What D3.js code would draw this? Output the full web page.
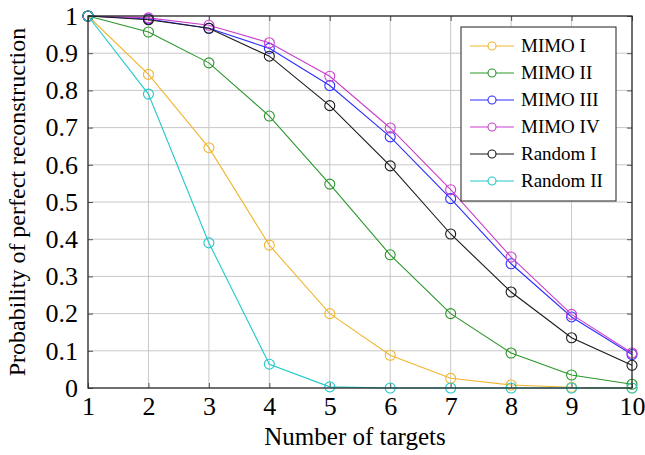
<!DOCTYPE html>
<html>
<head>
<meta charset="utf-8">
<script src="https://cdnjs.cloudflare.com/ajax/libs/d3/7.8.5/d3.min.js"></script>
<style>
  body { margin: 0; background: #fff; }
</style>
</head>
<body>
<script>
// values
const targets = [1, 2, 3, 4, 5, 6, 7, 8, 9, 10]
const mimoI   = [1, 0.843, 0.646, 0.384, 0.200, 0.088, 0.026, 0.008, 0.002, 0]
const mimoII  = [1, 0.957, 0.874, 0.731, 0.548, 0.358, 0.200, 0.094, 0.035, 0.010]
const mimoIII = [1, 0.992, 0.967, 0.913, 0.813, 0.675, 0.509, 0.334, 0.191, 0.090]
const mimoIV  = [1, 0.995, 0.975, 0.928, 0.838, 0.699, 0.533, 0.352, 0.198, 0.094]
const randI   = [1, 0.990, 0.967, 0.892, 0.759, 0.597, 0.414, 0.258, 0.135, 0.061]
const randII  = [1, 0.790, 0.390, 0.064, 0.003, 0, 0, 0, 0, 0]
const seriesNames = ["MIMO I", "MIMO II", "MIMO III", "MIMO IV", "Random I", "Random II"]
const yTicks = [0, 0.1, 0.2, 0.3, 0.4, 0.5, 0.6, 0.7, 0.8, 0.9, 1]

const colors = ["#f2b530", "#2a962a", "#2f2fff", "#cc3fcc", "#1a1a1a", "#22c8cc"]
const allSeries = [mimoI, mimoII, mimoIII, mimoIV, randI, randII]
const serif = "'Liberation Serif', 'Times New Roman', serif"

var svgWidth = 645
var svgHeight = 455
const margin = {top: 16, right: 13, bottom: 67, left: 88}
const gWidth = svgWidth - margin.left - margin.right
const gHeight = svgHeight - margin.top - margin.bottom

var svg = d3.select("body")
  .append("svg")
    .attr("width", svgWidth)
    .attr("height", svgHeight)
    .style("font-family", serif)

var g = svg.append("g")
  .attr("transform", "translate(" + margin.left + "," + margin.top + ")")

var xScale = d3.scaleLinear().domain([1, 10]).range([0, gWidth])
var yScale = d3.scaleLinear().domain([0, 1]).range([gHeight, 0])

// grid
g.append("g").selectAll("line")
  .data(targets)
  .enter().append("line")
    .attr("x1", d => xScale(d)).attr("x2", d => xScale(d))
    .attr("y1", 0).attr("y2", gHeight)
    .attr("stroke", "#c8c8c8").attr("stroke-width", 1)
g.append("g").selectAll("line")
  .data(yTicks)
  .enter().append("line")
    .attr("y1", d => yScale(d)).attr("y2", d => yScale(d))
    .attr("x1", 0).attr("x2", gWidth)
    .attr("stroke", "#c8c8c8").attr("stroke-width", 1)

// axes (ticks inside like pgfplots)
var xAxis = d3.axisBottom(xScale).tickValues(targets).tickSize(-5).tickPadding(9)
var yAxis = d3.axisLeft(yScale).tickValues(yTicks).tickSize(-5).tickPadding(10)
  .tickFormat(d => +d.toFixed(1))

var xg = g.append("g").attr("transform", "translate(0," + gHeight + ")").call(xAxis)
var yg = g.append("g").call(yAxis)
g.append("g").call(d3.axisTop(xScale).tickValues(targets).tickSize(-5).tickFormat(""))
  .selectAll("path").remove()
g.append("g").attr("transform", "translate(" + gWidth + ",0)")
  .call(d3.axisRight(yScale).tickValues(yTicks).tickSize(-5).tickFormat(""))
  .selectAll("path").remove()

;[xg, yg].forEach(function(a) {
  a.select(".domain").remove()
  a.selectAll("text").attr("font-size", 26).attr("fill", "#000")
    .style("font-family", serif)
})
g.selectAll(".tick line").attr("stroke", "#555")

// series
var line = d3.line()
  .x((d, i) => xScale(targets[i]))
  .y(d => yScale(d))

allSeries.forEach(function(s, k) {
  g.append("path")
    .datum(s)
    .attr("d", line)
    .attr("fill", "none")
    .attr("stroke", colors[k])
    .attr("stroke-width", 1.1)
  g.append("g").selectAll("circle")
    .data(s)
    .enter().append("circle")
      .attr("cx", (d, i) => xScale(targets[i]))
      .attr("cy", d => yScale(d))
      .attr("r", 5)
      .attr("fill", "none")
      .attr("stroke", colors[k])
      .attr("stroke-width", 1.1)
})

// frame
g.append("rect")
  .attr("width", gWidth).attr("height", gHeight)
  .attr("fill", "none").attr("stroke", "#222").attr("stroke-width", 1.2)

// legend
var leg = svg.append("g").attr("transform", "translate(461,27)")
leg.append("rect")
  .attr("width", 155).attr("height", 174)
  .attr("fill", "#fff").attr("stroke", "#333").attr("stroke-width", 1.1)
seriesNames.forEach(function(name, k) {
  var yy = 19 + k * 27
  leg.append("line")
    .attr("x1", 9).attr("x2", 53).attr("y1", yy).attr("y2", yy)
    .attr("stroke", colors[k]).attr("stroke-width", 1.1)
  leg.append("circle")
    .attr("cx", 31).attr("cy", yy).attr("r", 4)
    .attr("fill", "#fff").attr("stroke", colors[k]).attr("stroke-width", 1.1)
  leg.append("text")
    .attr("x", 60).attr("y", yy + 6)
    .attr("font-size", 19)
    .style("font-family", serif)
    .text(name)
})

// axis titles
svg.append("text")
  .attr("x", 355).attr("y", 445)
  .attr("text-anchor", "middle").attr("font-size", 25)
  .style("font-family", serif)
  .text("Number of targets")
svg.append("text")
  .attr("transform", "translate(25,202) rotate(-90)")
  .attr("text-anchor", "middle").attr("font-size", 24)
  .style("font-family", serif)
  .text("Probability of perfect reconstruction")
</script>
</body>
</html>
